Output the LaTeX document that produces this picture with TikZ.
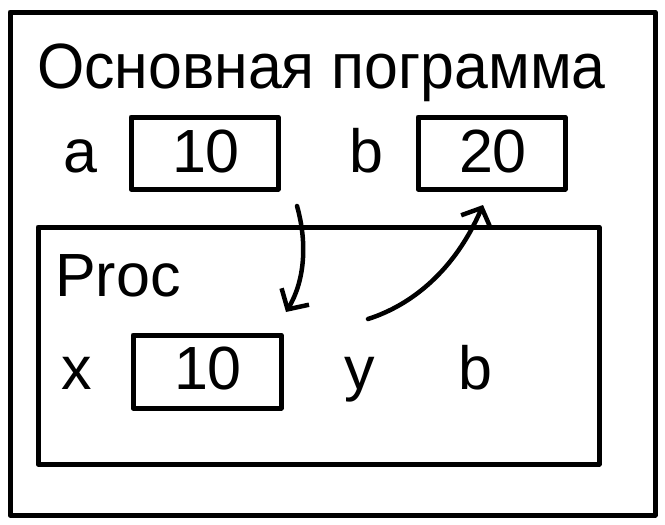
\documentclass[tikz,border=0pt]{standalone}
\usepackage{fontspec}
\setmainfont{Liberation Sans}
\usetikzlibrary{arrows.meta}
\begin{document}
\begin{tikzpicture}[x=1pt,y=-1pt,
  frame/.style={draw=black,line width=5pt,line join=round},
  big/.style={font=\fontsize{64}{72}\selectfont,inner sep=0pt,anchor=base west,xscale=0.95},
  txt/.style={font=\fontsize{61}{68}\selectfont,inner sep=0pt,anchor=base west},
  num/.style={font=\fontsize{61}{68}\selectfont,inner sep=0pt,anchor=base},
  link/.style={line width=4.5pt,line cap=round,-{Straight Barb[length=15pt,width=32pt,line width=4.5pt]}}]
\useasboundingbox (0,0) rectangle (665,525);
\fill[white] (0,0) rectangle (665,525);
% outer frame
\draw[frame] (10,12) rectangle (655,515);
\node[big] (title) at (37,88) {Основная пограмма};
% a and b
\node[txt] (la) at (63,172) {a};
\draw[frame] (131,117) rectangle (278,189);
\node[num] (va) at (206,172) {10};
\node[txt] (lb) at (349,172) {b};
\draw[frame] (418,117) rectangle (565,189);
\node[num] (vb) at (493,172) {20};
% inner frame
\draw[frame] (38,227) rectangle (599,464);
\node[txt] (proc) at (55,296) {Proc};
\node[txt] (lx) at (61,389) {x};
\draw[frame] (133,335) rectangle (281,408);
\node[num] (vx) at (208,389) {10};
\node[txt] (ly) at (344,389) {y};
\node[txt] (lb2) at (458,389) {b};
% arrows
\coordinate (s1) at (297,206);
\coordinate (e1) at (286,312);
\coordinate (s2) at (368,319);
\coordinate (e2) at (483,205);
\draw[link] (s1) .. controls (308,245) and (304,282) .. (e1);
\draw[link] (s2) .. controls (412,305) and (455,270) .. (e2);
\end{tikzpicture}
\end{document}
